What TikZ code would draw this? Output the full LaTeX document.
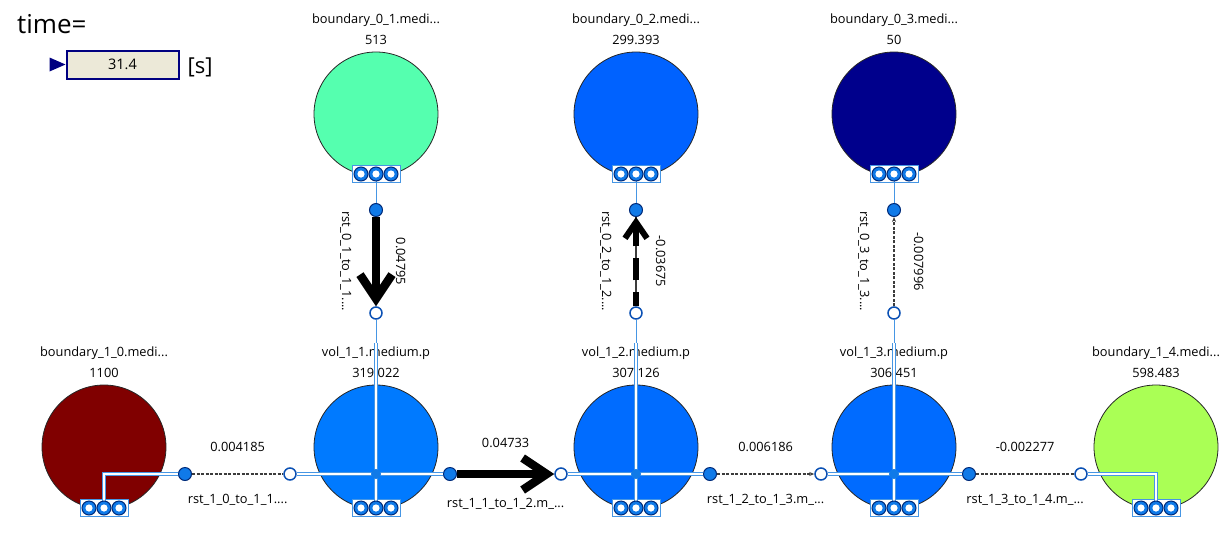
\documentclass[tikz,border=0pt]{standalone}
\usepackage{fontspec}
\setmainfont{Open Sans}
\usetikzlibrary{positioning, calc, arrows.meta}

\definecolor{pipeblue}{RGB}{70,150,228}
\definecolor{pinblue}{RGB}{16,122,232}
\definecolor{pinnavy}{RGB}{0,42,120}
\definecolor{tapring}{RGB}{10,80,180}
\definecolor{flowgray}{RGB}{60,60,60}
\definecolor{boxnavy}{RGB}{0,0,128}
\definecolor{boxfill}{RGB}{236,233,216}
\definecolor{colb01}{RGB}{85,255,175}
\definecolor{colb02}{RGB}{0,98,255}
\definecolor{colb03}{RGB}{0,0,140}
\definecolor{colb10}{RGB}{128,0,0}
\definecolor{colv11}{RGB}{0,122,255}
\definecolor{colv12}{RGB}{0,108,255}
\definecolor{colv13}{RGB}{0,107,255}
\definecolor{colb14}{RGB}{170,255,85}

\tikzset{
  vessel/.style={circle, draw=black!85, line width=0.8pt, minimum size=124pt, inner sep=0pt, outer sep=0pt},
  lbl/.style={inner sep=0pt, font=\fontsize{12.8}{14}\selectfont, text height=9pt, text depth=3pt},
  timebox/.style={rectangle, draw=boxnavy, fill=boxfill, line width=2pt, minimum width=112pt, minimum height=28pt, font=\fontsize{14.5}{16}\selectfont},
  portbox/.style={rectangle, draw=pipeblue, fill=white, line width=1pt, minimum width=48pt, minimum height=17pt, inner sep=0pt},
  portpin/.style={circle, draw=pinnavy, fill=pinblue, line width=1pt, minimum size=14pt, inner sep=0pt,
    path picture={\fill[white] (path picture bounding box.center) circle (3.6pt);}},
  tapa/.style={circle, draw=pinnavy, fill=pinblue, line width=1pt, minimum size=13pt, inner sep=0pt},
  tapb/.style={circle, draw=tapring, fill=white, line width=1.5pt, minimum size=12pt, inner sep=0pt},
  junc/.style={circle, fill=pinblue, minimum size=10pt, inner sep=0pt},
  pipe/.style={draw=pipeblue, line width=1.3pt, double=white, double distance=2pt},
  wire/.style={draw=pipeblue, line width=1pt},
  flowbig/.style={line width=8.5pt, -{Straight Barb[length=24pt, width=32pt, line cap=butt, line join=miter]}},
  flowmid/.style={line width=6pt, dash pattern=on 22pt off 12pt, dash phase=8pt,
    -{Straight Barb[length=16pt, width=22pt, line cap=butt, line join=miter]}},
  flowgray/.style={draw=flowgray, line width=1.5pt},
  flowthin/.style={draw=flowgray, line width=1.2pt, dash pattern=on 3pt off 1.5pt},
  thinhead/.style={-{Stealth[length=5pt, width=4pt]}}
}

\begin{document}
\begin{tikzpicture}[x=1pt, y=-1pt]
\useasboundingbox (0,0) rectangle (1227,542);

% time readout
\node[anchor=west, inner sep=0pt, font=\fontsize{26}{30}\selectfont] (timelbl) at (17,24) {time=};
\node[timebox] (timeval) at (122.5,64.5) {31.4};
\node[inner sep=0pt, font=\fontsize{22}{26}\selectfont, right=8pt of timeval, yshift=-3pt] (timeunit) {[s]};
\fill[boxnavy] (timeval.west) -- ++(-16,-7) -- ++(0,14) -- cycle;

% vessels
\node[vessel, fill=colb01] (b01) at (376,114) {};
\node[vessel, fill=colb02] (b02) at (636,114) {};
\node[vessel, fill=colb03] (b03) at (894,114) {};
\node[vessel, fill=colb10] (b10) at (104,447) {};
\node[vessel, fill=colv11] (v11) at (376,447) {};
\node[vessel, fill=colv12] (v12) at (636,447) {};
\node[vessel, fill=colv13] (v13) at (894,447) {};
\node[vessel, fill=colb14] (b14) at (1156,447) {};

% names and values
\node[lbl, above=4pt of b01] (b01val) {513};
\node[lbl, above=9pt of b01val] (b01name) {boundary\_0\_1.medi...};
\node[lbl, above=4pt of b02] (b02val) {299.393};
\node[lbl, above=9pt of b02val] (b02name) {boundary\_0\_2.medi...};
\node[lbl, above=4pt of b03] (b03val) {50};
\node[lbl, above=9pt of b03val] (b03name) {boundary\_0\_3.medi...};
\node[lbl, above=4pt of b10] (b10val) {1100};
\node[lbl, above=9pt of b10val] (b10name) {boundary\_1\_0.medi...};
\node[lbl, above=4pt of v11] (v11val) {319.022};
\node[lbl, above=9pt of v11val] (v11name) {vol\_1\_1.medium.p};
\node[lbl, above=4pt of v12] (v12val) {307.126};
\node[lbl, above=9pt of v12val] (v12name) {vol\_1\_2.medium.p};
\node[lbl, above=4pt of v13] (v13val) {306.451};
\node[lbl, above=9pt of v13val] (v13name) {vol\_1\_3.medium.p};
\node[lbl, above=4pt of b14] (b14val) {598.483};
\node[lbl, above=9pt of b14val] (b14name) {boundary\_1\_4.medi...};

% ports
\node[portbox] (p01) at (376,174) {};
\node[portbox] (p02) at (636,174) {};
\node[portbox] (p03) at (894,174) {};
\node[portbox] (p10) at (104,508) {};
\node[portbox] (p11) at (376,508) {};
\node[portbox] (p12) at (636,508) {};
\node[portbox] (p13) at (894,508) {};
\node[portbox] (p14) at (1156,508) {};

% resistor taps
\node[tapa] (r01a) at (376,210) {};
\node[tapb] (r01b) at (376,313) {};
\node[tapa] (r02a) at (636,210) {};
\node[tapb] (r02b) at (636,313) {};
\node[tapa] (r03a) at (894,210) {};
\node[tapb] (r03b) at (894,313) {};
\node[tapa] (r10a) at (185,474) {};
\node[tapb] (r10b) at (290,474) {};
\node[tapa] (r11a) at (450,474) {};
\node[tapb] (r11b) at (561,474) {};
\node[tapa] (r12a) at (710,474) {};
\node[tapb] (r12b) at (821,474) {};
\node[tapa] (r13a) at (969,474) {};
\node[tapb] (r13b) at (1081,474) {};

% pipes
\coordinate (c11) at (376,474);
\coordinate (c12) at (636,474);
\coordinate (c13) at (894,474);
\coordinate (k11) at (376,343);
\coordinate (k12) at (636,343);
\coordinate (k13) at (894,343);
\draw[wire] (p01.center) -- (r01a);
\draw[wire] (p02.center) -- (r02a);
\draw[wire] (p03.center) -- (r03a);
\draw[wire] (r01b) -- (k11);
\draw[wire] (r02b) -- (k12);
\draw[wire] (r03b) -- (k13);
\draw[pipe] (k11) -- (c11) -- (p11.center);
\draw[pipe] (k12) -- (c12) -- (p12.center);
\draw[pipe] (k13) -- (c13) -- (p13.center);
\draw[pipe] (p10.center) |- (r10a);
\draw[pipe] (r10b) -- (c11) -- (r11a);
\draw[pipe] (r11b) -- (c12) -- (r12a);
\draw[pipe] (r12b) -- (c13) -- (r13a);
\draw[pipe] (r13b) -| (p14.center);

\foreach \p in {p01,p02,p03,p10,p11,p12,p13,p14}
  \foreach \i/\dx in {1/-15,2/0,3/15}
    \node[portpin] (\p-\i) at ($(\p)+(\dx,0)$) {};

\node[junc] (j11) at (c11) {};
\node[junc] (j12) at (c12) {};
\node[junc] (j13) at (c13) {};

% flows
\draw[flowbig] (r01a) -- (r01b);
\draw[flowgray] (r02b) -- (r02a);
\draw[flowmid] (r02b) -- (r02a);
\draw[flowthin, thinhead] (r03b) -- (r03a);
\draw[flowthin] (r10a) -- node[lbl, above=19pt] (r10val) {0.004185}
  node[lbl, below=20pt] (r10name) {rst\_1\_0\_to\_1\_1....} (r10b);
\draw[flowbig] (r11a) -- node[lbl, above=19pt] (r11val) {0.04733}
  node[lbl, below=20pt] (r11name) {rst\_1\_1\_to\_1\_2.m\_...} (r11b);
\draw[flowthin, thinhead] (r12a) -- node[lbl, above=19pt] (r12val) {0.006186}
  node[lbl, below=20pt] (r12name) {rst\_1\_2\_to\_1\_3.m\_...} (r12b);
\draw[flowthin] (r13a) -- node[lbl, above=19pt] (r13val) {-0.002277}
  node[lbl, below=20pt] (r13name) {rst\_1\_3\_to\_1\_4.m\_...} (r13b);

% vertical flow labels
\node[lbl, rotate=-90] (r01name) at ($(r01a)!0.5!(r01b)+(-31,0)$) {rst\_0\_1\_to\_1\_1....};
\node[lbl, rotate=-90] (r01val) at ($(r01a)!0.5!(r01b)+(23,0)$) {0.04795};
\node[lbl, rotate=-90] (r02name) at ($(r02a)!0.5!(r02b)+(-31,0)$) {rst\_0\_2\_to\_1\_2....};
\node[lbl, rotate=-90] (r02val) at ($(r02a)!0.5!(r02b)+(23,0)$) {-0.03675};
\node[lbl, rotate=-90] (r03name) at ($(r03a)!0.5!(r03b)+(-31,0)$) {rst\_0\_3\_to\_1\_3....};
\node[lbl, rotate=-90] (r03val) at ($(r03a)!0.5!(r03b)+(23,0)$) {-0.007996};
\end{tikzpicture}
\end{document}
